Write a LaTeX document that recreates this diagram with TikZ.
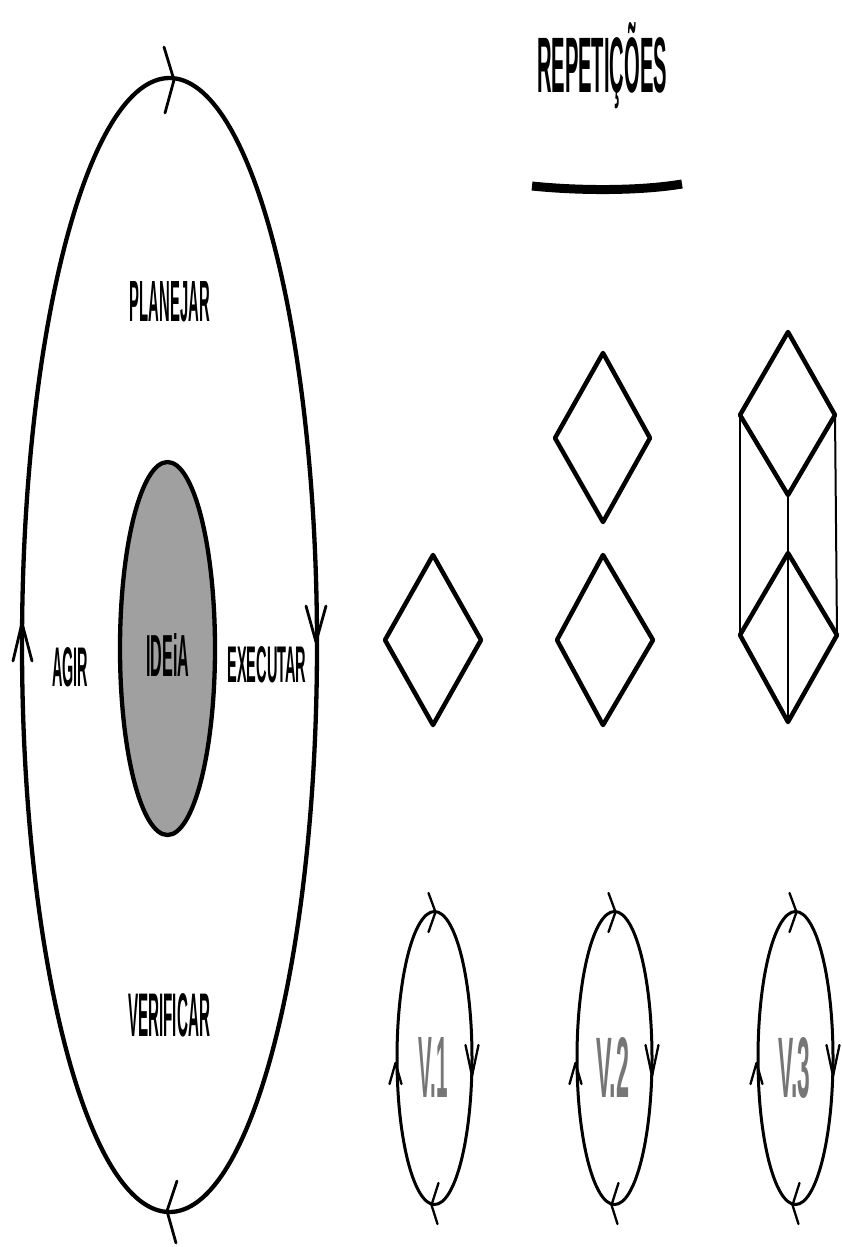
\documentclass[tikz,border=0pt]{standalone}
\usepackage{fontspec}
\usepackage{graphicx}
\setmainfont{Liberation Sans}
\definecolor{ideagray}{RGB}{160,160,160}
\definecolor{vgray}{RGB}{118,118,118}
\newcommand\hw[3]{\resizebox{#1pt}{#2pt}{\bfseries #3}}
\tikzset{
  loopline/.style={line width=4.3pt},
  smallloop/.style={line width=3pt},
  tick/.style={line width=2.8pt, line cap=round, line join=round},
  smalltick/.style={line width=2.3pt, line cap=round, line join=round},
  diam/.style={line width=4.5pt, line join=round},
  thinedge/.style={line width=2pt},
  label/.style={inner sep=0pt, anchor=base},
  vlabel/.style={inner sep=0pt, anchor=base, text=vgray},
}
\begin{document}
\begin{tikzpicture}[x=1pt,y=-1pt]
\useasboundingbox (0,0) rectangle (842,1247);
\fill[white] (0,0) rectangle (842,1247);

% ---- big cycle ----
\coordinate (oc) at (169.5,645);
\draw[loopline] (oc) ellipse [x radius=147.5, y radius=567];
\coordinate (otop) at (174,80);
\coordinate (oright) at (316,642);
\coordinate (obot) at (167,1211);
\coordinate (oleft) at (22,623);
\draw[tick] (164,47) -- (otop) -- (165,113);
\draw[tick] (306,606) -- (oright) -- (326,606);
\draw[tick] (177,1181) -- (obot) -- (176,1243);
\draw[tick] (13,661) -- (oleft) -- (32,661);

% ---- idea ----
\draw[loopline, fill=ideagray] (167.5,648.5) ellipse [x radius=47.5, y radius=186.5];

% ---- labels ----
\node[label] (planejar) at (170,321) {\hw{80}{40}{PLANEJAR}};
\node[label] (agir) at (70,686) {\hw{36}{39}{AGIR}};
\node[label] (ideia) at (168,676) {\hw{43}{43}{IDEiA}};
\node[label] (executar) at (267,682) {\hw{79}{36}{EXECUTAR}};
\node[label] (verificar) at (169,1036) {\hw{82}{43}{VERIFICAR}};

% ---- title ----
\node[label] (title) at (602,92) {\hw{130}{70}{REPETIÇÕES}};
\draw[line width=9pt] (532,186) .. controls (580,191) and (640,191) .. (682,184);

% ---- diamonds ----
\draw[diam] (433,555) -- (481,640) -- (433,725) -- (385,640) -- cycle;
\draw[diam] (603,353) -- (650,438) -- (603,522) -- (555,438) -- cycle;
\draw[diam] (603,555) -- (653,640) -- (603,725) -- (557,640) -- cycle;

\coordinate (ta) at (788,332);
\coordinate (tl) at (740,415);
\coordinate (tb) at (788,495);
\coordinate (tr) at (835,415);
\coordinate (ba) at (788,553);
\coordinate (bl) at (740,635);
\coordinate (bb) at (788,722);
\coordinate (br) at (837,635);
\draw[thinedge] (tl) -- (bl);
\draw[thinedge] (tr) -- (br);
\draw[thinedge] (tb) -- (bb);
\draw[diam] (ta) -- (tr) -- (tb) -- (tl) -- cycle;
\draw[diam] (ba) -- (br) -- (bb) -- (bl) -- cycle;

% ---- small cycles ----
\foreach \cx/\lab in {434.5/V.1, 614.5/V.2, 795.5/V.3}{
  \draw[smallloop] (\cx,1058) ellipse [x radius=37.5, y radius=146.5];
  \draw[smalltick] (\cx-6,893) -- (\cx+1,912) -- (\cx-6,932);
  \draw[smalltick] (\cx+4,1183) -- (\cx-3,1205) -- (\cx+3,1224);
  \draw[smalltick] (\cx+31,1045) -- (\cx+37.5,1076) -- (\cx+44,1045);
  \draw[smalltick] (\cx-45,1084) -- (\cx-39,1063) -- (\cx-33,1084);
}
\node[vlabel] (v1) at (433,1097) {\hw{29}{60}{V.1}};
\node[vlabel] (v2) at (613,1097) {\hw{33}{60}{V.2}};
\node[vlabel] (v3) at (794,1097) {\hw{32}{60}{V.3}};
\end{tikzpicture}
\end{document}
